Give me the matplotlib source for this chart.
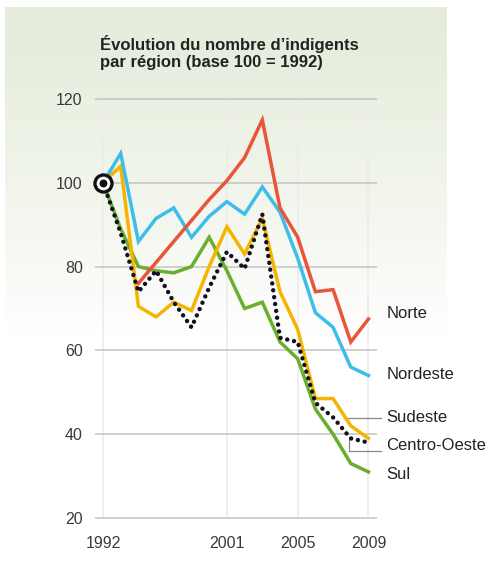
import matplotlib
matplotlib.use("Agg")
import matplotlib.pyplot as plt
import numpy as np

plt.rcParams['font.family'] = ['Liberation Sans', 'DejaVu Sans']

# 16 survey years, evenly spaced on the chart (1994 and 2000 missing)
years = [1992, 1993, 1995, 1996, 1997, 1998, 1999, 2001, 2002, 2003,
         2004, 2005, 2006, 2007, 2008, 2009]
tick_years = [1992, 2001, 2005, 2009]

norte = [np.nan, np.nan, 76, 81, 86, 91, 96, 100.5, 106, 115,
         94, 87, 74, 74.5, 62, 67.5]
nordeste = [100, 107, 86, 91.5, 94, 87, 92, 95.5, 92.5, 99,
            93, 82, 69, 65.5, 56, 54]
sudeste = [100, 104, 70.5, 68, 71.5, 69.5, 80, 89.5, 83, 91.5,
           74, 65, 48.5, 48.5, 42, 39]
centro_oeste = [100, 88, 74, 79, 71.5, 65.5, 75, 83.5, 79.5, 92.5,
                63, 62, 47.5, 44, 39, 38]
sul = [100, 89, 80, 79, 78.5, 80, 87, 79, 70, 71.5,
       62, 58, 46, 40, 33, 31]

x = np.arange(len(years))

fig = plt.figure(figsize=(5.0, 5.78), dpi=100)
fig.patch.set_facecolor('white')

# light green panel fading to white
bg = fig.add_axes([0.01, 0, 0.884, 0.988], zorder=-5)
bg.axis('off')
rows = 300
t = np.clip(np.linspace(0, 1, rows) / 0.58, 0, 1)[:, None] ** 1.3
top = np.array([0.900, 0.927, 0.860])
grad = top * (1 - t) + np.ones(3) * t
bg.imshow(grad[:, None, :], aspect='auto', extent=[0, 1, 0, 1])
bg.set_xlim(0, 1)
bg.set_ylim(0, 1)

ax = fig.add_axes([0.1848, 0.0893, 0.5734, 0.754])
ax.set_facecolor('none')
ax.set_xlim(-0.6, 15.6)
ax.set_ylim(18, 122)
for s in ax.spines.values():
    s.set_visible(False)

tick_idx = [years.index(y) for y in tick_years]
ax.vlines(tick_idx, 20, 120, color='#ececec', lw=1.2, zorder=1)
ax.hlines([20, 40, 60, 80, 100, 120], -0.45, 15.5, color='#c4c4c4', lw=1.1, zorder=1)

ax.set_yticks([20, 40, 60, 80, 100, 120])
ax.set_xticks(tick_idx)
ax.set_xticklabels([str(y) for y in tick_years])
ax.tick_params(length=0, labelsize=11.5, labelcolor='#3a3a3a')
ax.tick_params(axis='y', pad=7)
ax.tick_params(axis='x', pad=7)

lw = 2.5
ax.plot(x, sul, color='#6aae2e', lw=lw, zorder=3, solid_joinstyle='miter')
ax.plot(x, sudeste, color='#f4b400', lw=lw, zorder=3, solid_joinstyle='miter')
ax.plot(x, nordeste, color='#3dbde9', lw=lw, zorder=3, solid_joinstyle='miter')
ax.plot(x, norte, color='#e8553a', lw=lw, zorder=3, solid_joinstyle='miter')
ax.plot(x, centro_oeste, color='#111122', lw=3.2, ls=(0, (0.01, 1.55)),
        dash_capstyle='round', zorder=4)

# base marker
ax.scatter([0], [100], s=150, facecolor='white', edgecolor='#111111', lw=2.4, zorder=6)
ax.scatter([0], [100], s=22, color='#111111', zorder=7)

lab_x = 16.0
lab = dict(fontsize=12, color='#222222', va='center', ha='left', clip_on=False)
ax.text(lab_x, 68.7, 'Norte', **lab)
ax.text(lab_x, 54.3, 'Nordeste', **lab)
ax.text(lab_x, 44.0, 'Sudeste', **lab)
ax.text(lab_x, 37.2, 'Centro-Oeste', **lab)
ax.text(lab_x, 30.5, 'Sul', **lab)
# leader lines
ax.plot([13.6, 15.7], [43.8, 43.8], color='#888888', lw=0.9, clip_on=False)
ax.plot([13.9, 13.9, 15.7], [38.5, 35.9, 35.9], color='#888888', lw=0.9, clip_on=False)

fig.text(0.2, 0.909, "Évolution du nombre d’indigents\npar région (base 100 = 1992)",
         fontsize=12, fontweight='bold', color='#222222', va='center', ha='left',
         linespacing=1.1)

fig.savefig('out.png', dpi=100, facecolor='white')
